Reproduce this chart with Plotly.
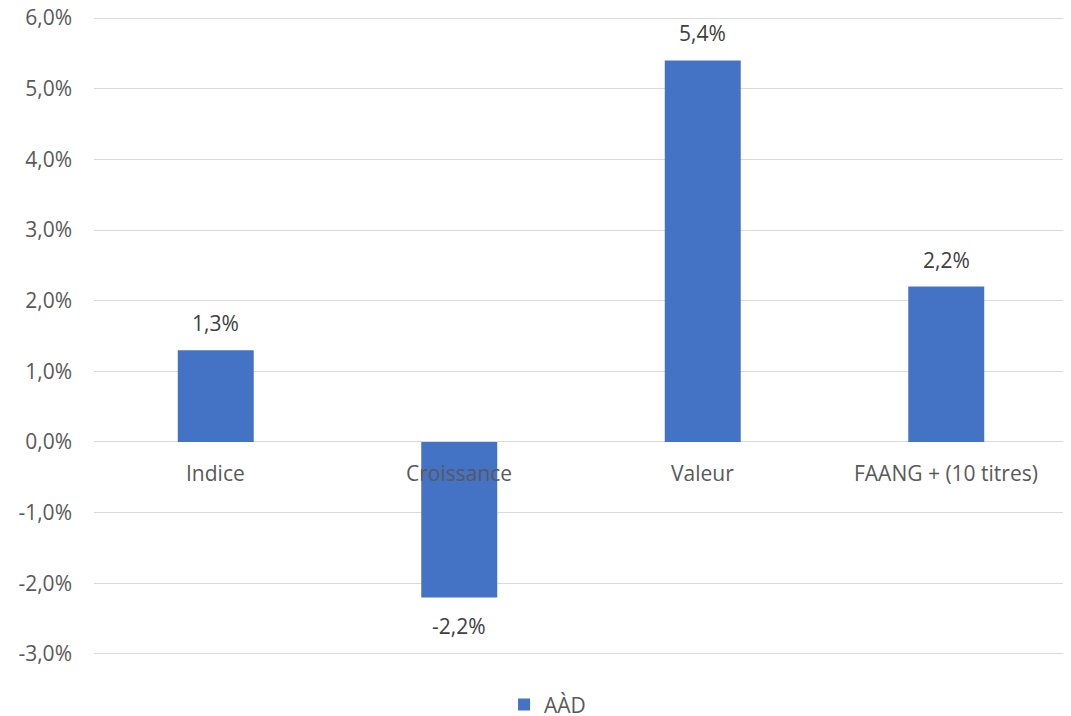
import plotly.graph_objects as go

categories = ["Indice", "Croissance", "Valeur", "FAANG + (10 titres)"]
values = [0.013, -0.022, 0.054, 0.022]
series_name = "AÀD"
tick_vals = [-0.03, -0.02, -0.01, 0.0, 0.01, 0.02, 0.03, 0.04, 0.05, 0.06]
tick_text = ["-3,0%", "-2,0%", "-1,0%", "0,0%", "1,0%", "2,0%", "3,0%", "4,0%", "5,0%", "6,0%"]

bar_color = "#4472C4"
font_family = "Open Sans, sans-serif"
fsize = 21


def pct_label(v):
    return ("%.1f%%" % (v * 100)).replace(".", ",")


fig = go.Figure()
fig.add_trace(go.Bar(
    x=categories,
    y=values,
    name=series_name,
    marker=dict(color=bar_color, line=dict(width=0)),
    showlegend=True,
))

# data labels above / below bars
for c, v in zip(categories, values):
    fig.add_annotation(
        x=c, y=v, text=pct_label(v), showarrow=False,
        yshift=27 if v >= 0 else -29,
        font=dict(family=font_family, size=fsize, color="#404040"),
    )

# category labels sit just under the zero line
for c in categories:
    fig.add_annotation(
        x=c, y=0, text=c, showarrow=False, yshift=-31,
        font=dict(family=font_family, size=fsize, color="#595959"),
    )

# page body adds an 8px offset, so the figure is a bit smaller than the window
fig.update_layout(
    width=1063,
    height=708,
    margin=dict(l=86, r=3, t=9, b=61, autoexpand=False),
    plot_bgcolor="white",
    paper_bgcolor="white",
    bargap=0.688,
    font=dict(family=font_family, size=fsize, color="#595959"),
    legend=dict(
        orientation="h",
        x=0.421, xanchor="left",
        y=-0.078, yanchor="middle",
        font=dict(family=font_family, size=fsize, color="#595959"),
        itemwidth=30,
    ),
)
fig.update_xaxes(showticklabels=False, showgrid=False, showline=False, zeroline=False,
                 automargin=False)
fig.update_yaxes(
    range=[-0.03015, 0.06015],
    tickvals=tick_vals,
    ticktext=tick_text,
    showgrid=True,
    gridcolor="#D9D9D9",
    gridwidth=1.3,
    zeroline=True,
    zerolinecolor="#D9D9D9",
    zerolinewidth=1.3,
    showline=False,
    ticks="",
    ticklabelstandoff=21,
    ticklabeloverflow="allow",
    automargin=False,
)

fig.write_html("out.html")
